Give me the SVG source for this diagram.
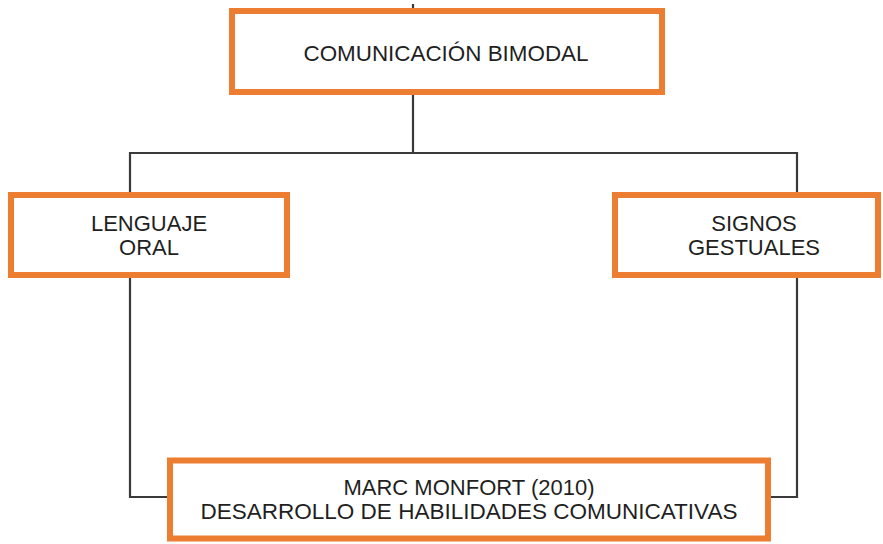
<svg xmlns="http://www.w3.org/2000/svg" width="883" height="544" viewBox="0 0 883 544">
  <style>
    .box { fill: #ffffff; stroke: #ED7D31; stroke-width: 6; }
    .lbl { font-family: "Liberation Sans", Arial, sans-serif; font-size: 22px; fill: #1f1f1f; text-anchor: middle; }
    .conn { fill: none; stroke: #3a3a3a; stroke-width: 2.2; }
  </style>
  <rect width="883" height="544" fill="#ffffff"/>
  <g id="connectors">
    <line class="conn" x1="413" y1="4" x2="413" y2="9"/>
    <line class="conn" x1="413" y1="95" x2="413" y2="153"/>
    <polyline class="conn" points="130,192 130,153 797,153 797,192"/>
    <polyline class="conn" points="130,278 130,497 167,497"/>
    <polyline class="conn" points="797,277 797,497 771,497"/>
  </g>
  <g id="comunicacion-bimodal">
    <rect class="box" x="232" y="11" width="430" height="81"/>
    <text class="lbl" x="446" y="61" textLength="285" lengthAdjust="spacingAndGlyphs">COMUNICACIÓN BIMODAL</text>
  </g>
  <g id="lenguaje-oral">
    <rect class="box" x="11" y="195" width="276" height="80"/>
    <text class="lbl" x="149" y="231">LENGUAJE</text>
    <text class="lbl" x="149" y="255">ORAL</text>
  </g>
  <g id="signos-gestuales">
    <rect class="box" x="615" y="195" width="263" height="80"/>
    <text class="lbl" x="754" y="231">SIGNOS</text>
    <text class="lbl" x="754" y="255">GESTUALES</text>
  </g>
  <g id="marc-monfort">
    <rect class="box" x="170" y="460.5" width="598" height="78"/>
    <text class="lbl" x="469" y="495">MARC MONFORT (2010)</text>
    <text class="lbl" x="469" y="519" textLength="537" lengthAdjust="spacingAndGlyphs">DESARROLLO DE HABILIDADES COMUNICATIVAS</text>
  </g>
</svg>
